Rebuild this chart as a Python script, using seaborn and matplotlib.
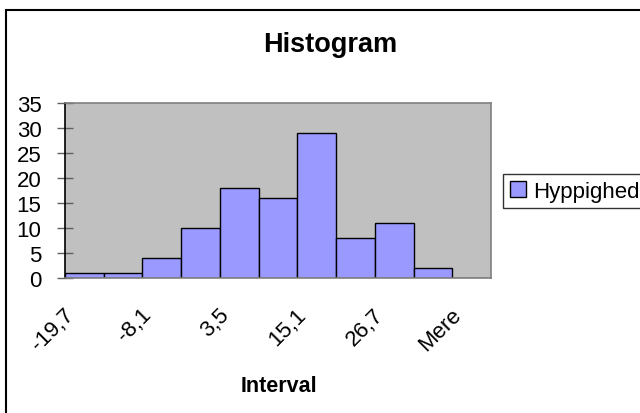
import matplotlib
matplotlib.use("Agg")
import matplotlib.pyplot as plt
import matplotlib.transforms as mtransforms
import seaborn as sns
import pandas as pd

# Bin labels (upper limits) and frequency counts
bins = ["-19,7", "-13,9", "-8,1", "-2,3", "3,5", "9,3", "15,1", "20,9", "26,7", "32,5", "Mere"]
counts = [1, 1, 4, 10, 18, 16, 29, 8, 11, 2, 0]
series_name = "Hyppighed"
title = "Histogram"
x_title = "Interval"
y_ticks = [0, 5, 10, 15, 20, 25, 30, 35]

plt.rcParams["font.family"] = ["Liberation Sans", "DejaVu Sans"]

W, H = 640, 414
fig = plt.figure(figsize=(W / 100, H / 100), dpi=100)
fig.patch.set_facecolor("white")

# plot area in pixel units
left, right, top, bottom = 65, 491, 104, 279
ax = fig.add_axes([left / W, 1 - bottom / H, (right - left) / W, (bottom - top) / H])

df = pd.DataFrame({"Interval": bins, "Count": counts})
sns.barplot(data=df, x="Interval", y="Count", order=bins, width=1.0,
            color="#9999FF", saturation=1, edgecolor="black", linewidth=1.0,
            ax=ax, label=series_name)

ax.set_facecolor("#C0C0C0")
ax.set_xlim(-0.5, len(bins) - 0.5)
ax.set_ylim(0, 35)
ax.set_yticks(y_ticks)
ax.set_yticklabels([str(v) for v in y_ticks], fontsize=16)
ax.tick_params(axis="y", direction="inout", length=11, width=1, color="#606060", pad=11.5)

ax.set_xticks(range(len(bins)))
ax.set_xticklabels([b if i % 2 == 0 else "" for i, b in enumerate(bins)], fontsize=16)
ax.tick_params(axis="x", length=0, pad=18.5)
shift = mtransforms.ScaledTranslation(-6 / 100, 0, fig.dpi_scale_trans)
for lab in ax.get_xticklabels():
    lab.set_rotation(45)
    lab.set_ha("right")
    lab.set_va("top")
    lab.set_rotation_mode("default")
    lab.set_transform(lab.get_transform() + shift)

ax.set_xlabel("")
ax.set_ylabel("")
for side in ["top", "right", "bottom"]:
    ax.spines[side].set_color("#808080")
    ax.spines[side].set_linewidth(1.2)
ax.spines["left"].set_color("black")
ax.spines["left"].set_linewidth(1.2)

# titles
fig.text(330 / W, 1 - 45 / H, title, ha="center", va="center", fontsize=19.5, fontweight="bold")
fig.text(279 / W, 1 - 392 / H, x_title, ha="center", va="baseline", fontsize=15.5, fontweight="bold")

# legend
handles, labels = ax.get_legend_handles_labels()
if ax.legend_:
    ax.legend_.remove()
leg = fig.legend(handles[:1], labels[:1], loc="upper left",
                 bbox_to_anchor=(503 / W, 1 - 175 / H), borderaxespad=0,
                 fontsize=16, frameon=True, fancybox=False, shadow=False,
                 handlelength=0.75, handleheight=0.75, handletextpad=0.3,
                 borderpad=0.3)
leg.get_frame().set_edgecolor("black")
leg.get_frame().set_linewidth(1.0)

# chart border
border = plt.Rectangle((6 / W, -0.1), 1.2, 1 - 10.5 / H + 0.1, transform=fig.transFigure,
                       fill=False, edgecolor="black", linewidth=1.5, clip_on=False)
fig.patches.append(border)

fig.savefig("out.png", dpi=100)
